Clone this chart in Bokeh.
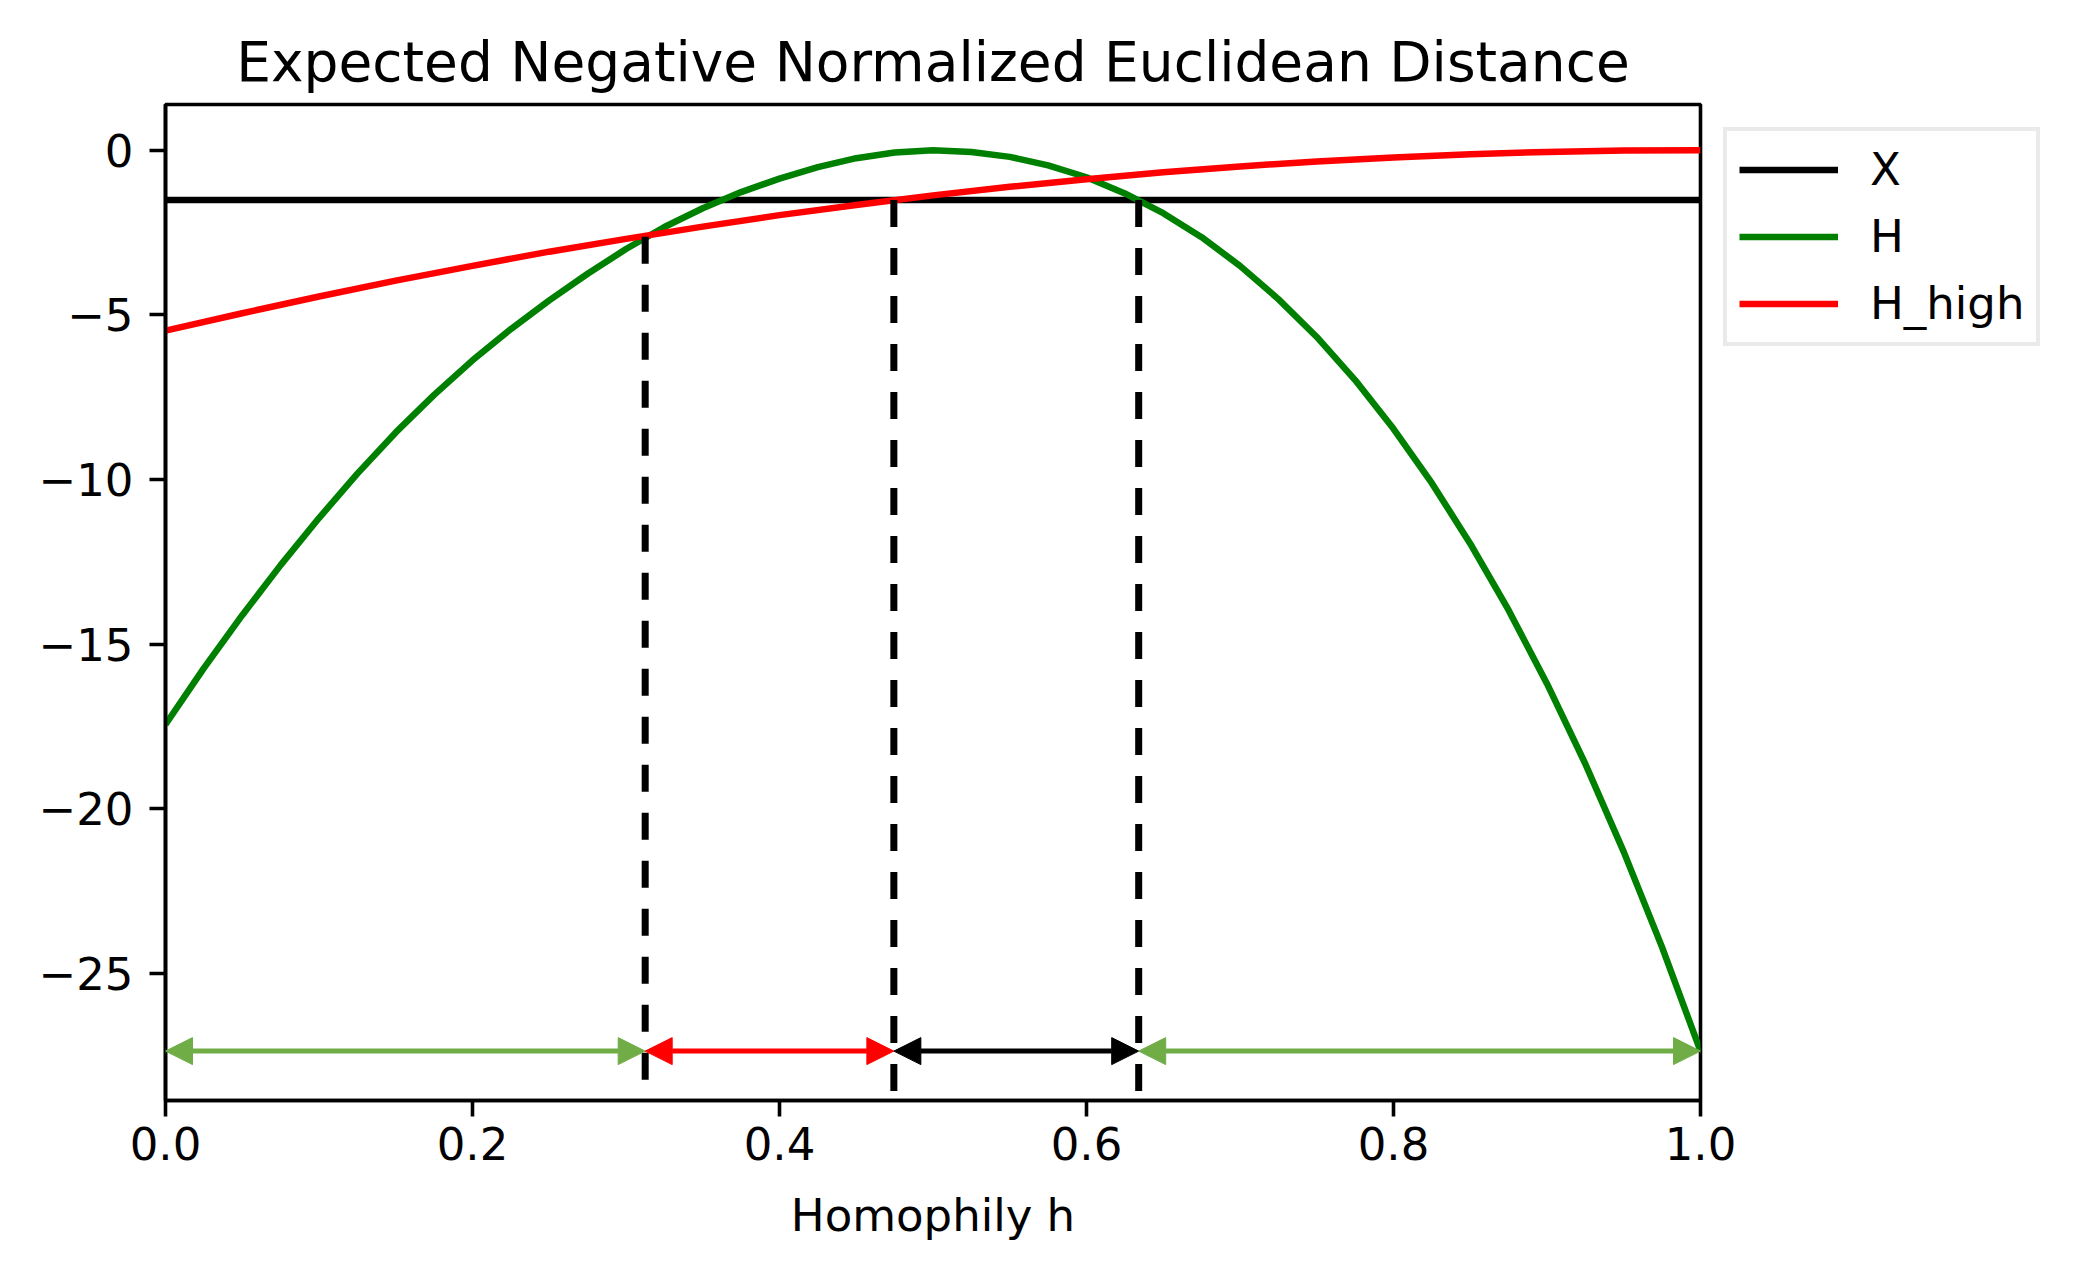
from bokeh.plotting import figure
from bokeh.models import (Range1d, FixedTicker, Legend, LegendItem,
                          Arrow, NormalHead)
from bokeh.embed import file_html
from bokeh.resources import INLINE

# values
h_green = [0.0, 0.025, 0.05, 0.075, 0.1, 0.125, 0.15, 0.175, 0.2, 0.225,
           0.25, 0.275, 0.3, 0.325, 0.35, 0.375, 0.4, 0.425, 0.45, 0.475,
           0.5, 0.525, 0.55, 0.575, 0.6, 0.625, 0.65, 0.675, 0.7, 0.725,
           0.75, 0.775, 0.8, 0.825, 0.85, 0.875, 0.9, 0.925, 0.95, 0.975, 1.0]
H = [-17.44, -15.73, -14.12, -12.60, -11.17, -9.82, -8.57, -7.43, -6.38, -5.43,
     -4.56, -3.75, -3.00, -2.33, -1.76, -1.27, -0.86, -0.51, -0.24, -0.07,
     0.0, -0.05, -0.20, -0.46, -0.82, -1.31, -1.91, -2.64, -3.51, -4.52,
     -5.67, -6.98, -8.46, -10.11, -11.95, -13.97, -16.20, -18.64, -21.31,
     -24.21, -27.36]

h_red = [0.0, 0.05, 0.1, 0.15, 0.2, 0.25, 0.3, 0.35, 0.4, 0.45, 0.5, 0.55,
         0.6, 0.65, 0.7, 0.75, 0.8, 0.85, 0.9, 0.95, 1.0]
H_high = [-5.48, -4.95, -4.44, -3.96, -3.51, -3.08, -2.69, -2.32, -1.97, -1.66,
          -1.37, -1.11, -0.88, -0.67, -0.49, -0.34, -0.22, -0.12, -0.05, -0.01,
          0.0]

h_x = [0.0, 1.0]
X = [-1.51, -1.51]

# crossing points marked by the dashed lines
crossings = [0.3125, 0.4745, 0.634]
crossing_tops = [-2.63, -1.51, -1.51]

# interval arrows along the bottom
arrow_from = [0.0, 0.3125, 0.4745, 0.634]
arrow_to = [0.3125, 0.4745, 0.634, 1.0]
arrow_level = -27.36

x_ticks = [0.0, 0.2, 0.4, 0.6, 0.8, 1.0]
x_tick_labels = ["0.0", "0.2", "0.4", "0.6", "0.8", "1.0"]
y_ticks = [0, -5, -10, -15, -20, -25]
y_tick_labels = ["0", "\u22125", "\u221210", "\u221215", "\u221220", "\u221225"]

FONT = "DejaVu Sans"
arrow_colors = ["#70AD47", "#FF0000", "#000000", "#70AD47"]

y_lo, y_hi = -28.86, 1.39

p = figure(frame_width=1535, frame_height=996,
           min_border_left=165, min_border_top=104,
           min_border_right=364, min_border_bottom=158,
           x_range=Range1d(0, 1), y_range=Range1d(y_lo, y_hi),
           title="Expected Negative Normalized Euclidean Distance",
           output_backend="svg", toolbar_location=None, tools="")

r_x = p.line(h_x, X, line_color="black", line_width=6.5)
r_h = p.line(h_green, H, line_color="#008000", line_width=6.5)
r_hh = p.line(h_red, H_high, line_color="#FF0000", line_width=6.5)

p.segment(x0=crossings, y0=crossing_tops, x1=crossings,
          y1=[y_lo] * len(crossings),
          line_color="black", line_width=7, line_dash="27 21")

for a, b, c in zip(arrow_from, arrow_to, arrow_colors):
    p.add_layout(Arrow(
        start=NormalHead(size=27, fill_color=c, line_color=c, line_width=1),
        end=NormalHead(size=27, fill_color=c, line_color=c, line_width=1),
        x_start=a, y_start=arrow_level, x_end=b, y_end=arrow_level,
        line_color=c, line_width=5))

# axes
p.xgrid.grid_line_color = None
p.ygrid.grid_line_color = None
p.outline_line_color = "black"
p.outline_line_width = 3.6

p.xaxis.ticker = FixedTicker(ticks=x_ticks)
p.xaxis.major_label_overrides = dict(zip(x_ticks, x_tick_labels))
p.yaxis.ticker = FixedTicker(ticks=y_ticks)
p.yaxis.major_label_overrides = dict(zip(y_ticks, y_tick_labels))
p.xaxis.axis_label = "Homophily h"

for ax in (p.xaxis, p.yaxis):
    ax.axis_line_color = "black"
    ax.axis_line_width = 3.6
    ax.major_tick_line_width = 3.6
    ax.major_tick_out = 16
    ax.major_tick_in = 0
    ax.minor_tick_line_color = None
    ax.major_label_text_font = FONT
    ax.major_label_text_font_size = "45px"
    ax.major_label_text_color = "black"
    ax.axis_label_text_font = FONT
    ax.axis_label_text_font_size = "45px"
    ax.axis_label_text_font_style = "normal"
    ax.axis_label_text_color = "black"
p.xaxis.major_label_standoff = 10
p.yaxis.major_label_standoff = 16
p.xaxis.axis_label_standoff = 26

p.title.text_font = FONT
p.title.text_font_size = "55px"
p.title.text_font_style = "normal"
p.title.text_color = "black"
p.title.align = "center"
p.title.standoff = 22

legend = Legend(items=[LegendItem(label="X", renderers=[r_x]),
                       LegendItem(label="H", renderers=[r_h]),
                       LegendItem(label="H_high", renderers=[r_hh])],
                location="top_left", margin=23, padding=12, spacing=14,
                glyph_width=99, glyph_height=45, label_height=45,
                label_standoff=32, label_text_font=FONT,
                label_text_font_size="45px", label_text_color="black",
                border_line_color="#d6d6d6", border_line_width=4.5,
                background_fill_alpha=0.8)
p.add_layout(legend, "right")

open("out.html", "w").write(file_html(p, INLINE))
